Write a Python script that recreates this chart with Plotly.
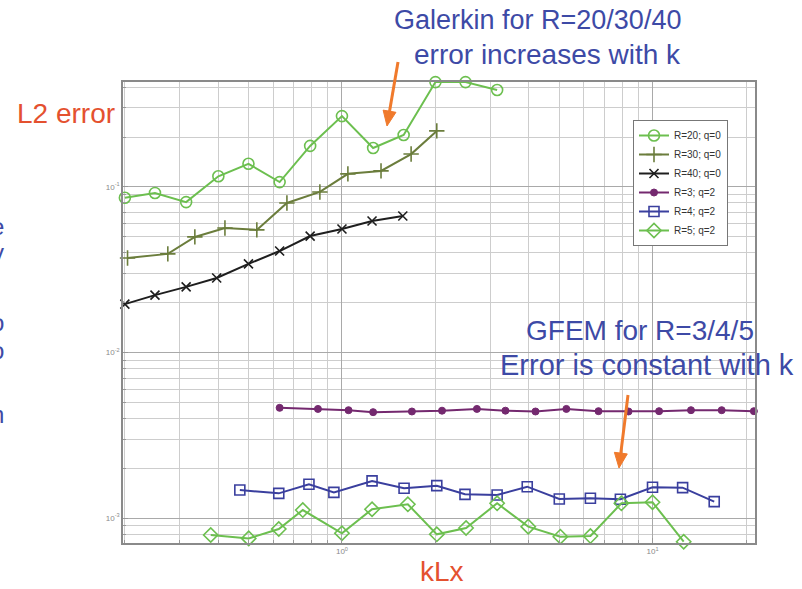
import math
import plotly.graph_objects as go

# ---- data: L2 error vs kLx --------------------------------------------
# Galerkin (q=0)
x_r20 = [0.2, 0.25, 0.315, 0.4, 0.5, 0.63, 0.79, 1.0, 1.26, 1.58, 2.0, 2.5, 3.16]
y_r20 = [0.086, 0.092, 0.081, 0.116, 0.138, 0.107, 0.177, 0.268, 0.172, 0.206, 0.43, 0.43, 0.385]

x_r30 = [0.204, 0.275, 0.336, 0.42, 0.532, 0.665, 0.849, 1.045, 1.336, 1.67, 2.02]
y_r30 = [0.0372, 0.0394, 0.0499, 0.0565, 0.055, 0.080, 0.0933, 0.120, 0.125, 0.158, 0.218]

x_r40 = [0.2, 0.25, 0.315, 0.395, 0.5, 0.63, 0.79, 1.0, 1.25, 1.57]
y_r40 = [0.0196, 0.0222, 0.0249, 0.0282, 0.0343, 0.041, 0.0505, 0.0557, 0.0623, 0.0668]

# GFEM (q=2)
x_r3 = [0.63, 0.837, 1.05, 1.26, 1.68, 2.1, 2.72, 3.36, 4.2, 5.28, 6.7, 8.37, 10.5, 13.3, 16.7, 21.2]
y_r3 = [0.00463, 0.00456, 0.00448, 0.00436, 0.0044, 0.00445, 0.00456, 0.00445,
        0.0044, 0.00456, 0.00442, 0.0044, 0.00442, 0.00448, 0.00448, 0.00442]

x_r4 = [0.469, 0.626, 0.783, 0.942, 1.25, 1.585, 2.02, 2.49, 3.16, 3.95, 5.01, 6.31, 7.88, 10.0, 12.5, 15.8]
y_r4 = [0.001476, 0.001409, 0.0016, 0.001429, 0.001675, 0.001513, 0.001568, 0.00139,
        0.001377, 0.001546, 0.001303, 0.001315, 0.001298, 0.001535, 0.001525, 0.001256]

x_r5 = [0.378, 0.501, 0.626, 0.748, 1.0, 1.25, 1.63, 2.02, 2.51, 3.16, 3.98, 5.05, 6.31, 7.94, 10.0, 12.6]
y_r5 = [0.000789, 0.000753, 0.000858, 0.001117, 0.000809, 0.00113, 0.00121, 0.000797,
        0.00087, 0.001227, 0.000887, 0.000771, 0.000778, 0.001227, 0.001245, 0.000719]

# axis ticks (decades)
x_tickvals = [1, 10]
x_ticktext = ["10<sup>0</sup>", "10<sup>1</sup>"]
y_tickvals = [0.001, 0.01, 0.1]
y_ticktext = ["10<sup>-3</sup>", "10<sup>-2</sup>", "10<sup>-1</sup>"]

series = [
    ("R=20; q=0", x_r20, y_r20, "#6cbf4f", "circle-open", 11, 1.6),
    ("R=30; q=0", x_r30, y_r30, "#6b7d3c", "cross-thin-open", 11, 1.6),
    ("R=40; q=0", x_r40, y_r40, "#1e1e1e", "x-thin-open", 9, 1.6),
    ("R=3; q=2", x_r3, y_r3, "#74296f", "circle", 7, 1.0),
    ("R=4; q=2", x_r4, y_r4, "#3a3f9e", "square-open", 10, 1.6),
    ("R=5; q=2", x_r5, y_r5, "#6cbf4f", "diamond-open", 11, 1.6),
]

# ---- layout geometry (pixels) ------------------------------------------
W, H = 802, 589
ML, MR, MT, MB = 123, 47, 82, 46
PW, PH = W - ML - MR, H - MT - MB


def px(xp):
    return (xp - ML) / PW


def py(yp):
    return (H - MB - yp) / PH


fig = go.Figure()
for name, xs, ys, col, sym, size, lw in series:
    fig.add_trace(go.Scatter(
        x=xs, y=ys, name=name, mode="lines+markers", cliponaxis=False,
        line=dict(color=col, width=2),
        marker=dict(symbol=sym, size=size, color=col, line=dict(color=col, width=lw)),
    ))

axis_common = dict(
    type="log", tickmode="array",
    showgrid=True, gridcolor="#a9a9a9", gridwidth=1,
    minor=dict(tickmode="linear", dtick="D1", showgrid=True, gridcolor="#cdcdcd", gridwidth=1,
               ticks="inside", ticklen=3, tickcolor="#999"),
    showline=True, linecolor="#8a8a8a", linewidth=1.5, mirror=True,
    ticks="inside", ticklen=5, tickcolor="#999",
    tickfont=dict(size=8, color="#8a8a8a", family="Liberation Sans, Arial"),
    zeroline=False,
)

fig.update_xaxes(range=[-0.705, 1.33], tickvals=x_tickvals, ticktext=x_ticktext, **axis_common)
fig.update_yaxes(range=[-3.151, -0.366], tickvals=y_tickvals, ticktext=y_ticktext, **axis_common)

blue = "#3d4aa6"
red = "#e4512f"
orange = "#f07a2c"
font_fam = "Liberation Sans, Arial, sans-serif"

annotations = [
    dict(text="Galerkin for R=20/30/40", x=px(537), y=py(20), font=dict(size=27, color=blue)),
    dict(text="error increases with k", x=px(547), y=py(55), font=dict(size=28, color=blue)),
    dict(text="GFEM for R=3/4/5", x=px(640), y=py(330), font=dict(size=28, color=blue)),
    dict(text="Error is constant with k", x=px(647), y=py(365), font=dict(size=29, color=blue)),
    dict(text="L2 error", x=px(15), y=py(113), xanchor="left", font=dict(size=28, color=red)),
    dict(text="kLx", x=px(442), y=py(571), font=dict(size=28, color=red)),
]
# cut-off letters of neighbouring slide text at the left edge
for ch, yy in [("e", 226), ("y", 252), ("o", 322), ("o", 350), ("n", 414)]:
    annotations.append(dict(text=ch, x=px(6), y=py(yy), xanchor="right",
                            font=dict(size=24, color=blue)))

for a in annotations:
    a.update(xref="paper", yref="paper", showarrow=False)
    a.setdefault("xanchor", "center")
    a["yanchor"] = "middle"
    a["font"]["family"] = font_fam


# orange arrows drawn as a shaft plus a filled head
def arrow_shapes(tail, tip, color, width=3, head_len=15, head_half=6.5):
    dx, dy = tip[0] - tail[0], tip[1] - tail[1]
    n = math.hypot(dx, dy)
    ux, uy = dx / n, dy / n
    bx, by = tip[0] - head_len * ux, tip[1] - head_len * uy
    px1, py1 = bx + head_half * uy, by - head_half * ux
    px2, py2 = bx - head_half * uy, by + head_half * ux
    shaft = dict(type="line", xref="paper", yref="paper",
                 x0=px(tail[0]), y0=py(tail[1]), x1=px(bx + 2 * ux), y1=py(by + 2 * uy),
                 line=dict(color=color, width=width))
    head = dict(type="path", xref="paper", yref="paper",
                path=f"M {px(tip[0])} {py(tip[1])} L {px(px1)} {py(py1)} L {px(px2)} {py(py2)} Z",
                fillcolor=color, line=dict(color=color, width=1))
    return [shaft, head]


shapes = arrow_shapes((398, 62), (387, 126), orange) + arrow_shapes((628, 395), (619, 468), orange)

fig.update_layout(
    width=W, height=H,
    margin=dict(l=ML, r=MR, t=MT, b=MB, pad=0),
    paper_bgcolor="white", plot_bgcolor="white",
    annotations=annotations,
    shapes=shapes,
    showlegend=True,
    legend=dict(x=px(633), y=py(120), xanchor="left", yanchor="top",
                bgcolor="white", bordercolor="#777", borderwidth=1,
                font=dict(size=10, color="#333", family=font_fam),
                itemwidth=30, tracegroupgap=0),
)

fig.write_html("out.html")
